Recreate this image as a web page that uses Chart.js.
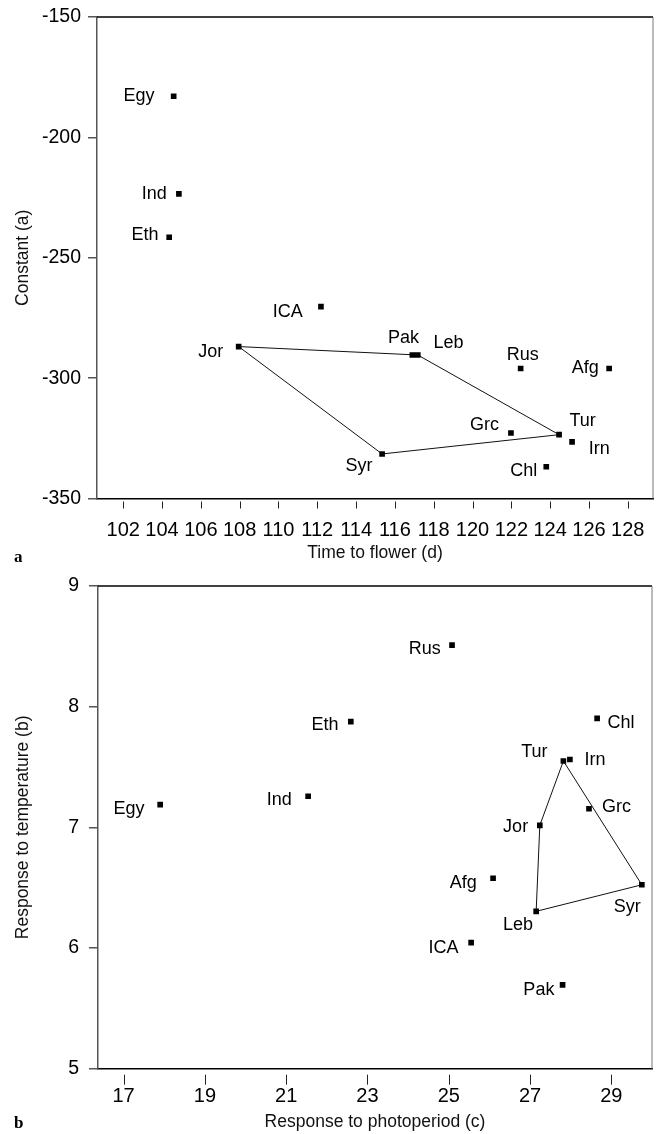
<!DOCTYPE html>
<html>
<head>
<meta charset="utf-8">
<script src="https://cdn.jsdelivr.net/npm/chart.js@4.4.1/dist/chart.umd.min.js"></script>
<style>
html,body{margin:0;padding:0;background:#fff;width:657px;height:1134px;overflow:hidden}
canvas{position:absolute;left:0}
#c1{top:0}
#c2{top:567px}
</style>
</head>
<body>
<canvas id="c1" width="657" height="567"></canvas>
<canvas id="c2" width="657" height="567"></canvas>
<script>
// ---------- data ----------
const countries = ['Egy','Ind','Eth','ICA','Jor','Pak','Leb','Syr','Rus','Afg','Grc','Tur','Irn','Chl'];

// panel a
const timeToFlower = [104.6, 104.87, 104.37, 112.19, 107.95, 116.9, 117.18, 115.34, 122.48, 127.04, 121.98, 124.46, 125.13, 123.8];
const constantA    = [-182.9, -223.5, -241.5, -270.3, -286.9, -290.4, -290.4, -331.5, -296.0, -296.0, -322.8, -323.5, -326.5, -336.8];
const hullA = ['Jor','Leb','Tur','Syr','Jor'];
const xTicksA = [102,104,106,108,110,112,114,116,118,120,122,124,126,128];
const yTicksA = [-350,-300,-250,-200,-150];

// panel b
const photoperiod = [17.90, 21.54, 22.59, 25.55, 27.24, 27.80, 27.15, 29.75, 25.08, 26.09, 28.45, 27.82, 27.98, 28.65];
const temperature = [7.188, 7.258, 7.876, 6.045, 7.017, 5.695, 6.304, 6.524, 8.51, 6.578, 7.154, 7.55, 7.562, 7.903];
const hullB = ['Jor','Tur','Syr','Leb','Jor'];
const xTicksB = [17,19,21,23,25,27,29];
const yTicksB = [5,6,7,8,9];

// ---------- label placement (style) ----------
const offsetsA = {
  Egy:[-34.7,0], Ind:[-24.7,0], Eth:[-24.3,-2.7], ICA:[-33.2,5], Jor:[-27.9,5],
  Pak:[-8.8,-17.3], Leb:[30.6,-12.3], Syr:[-23,12.3], Rus:[2.1,-13.3], Afg:[-23.8,-0.6],
  Grc:[-26.5,-7.7], Tur:[23.5,-13.3], Irn:[27.2,7.6], Chl:[-22.6,4.7]
};
const offsetsB = {
  Rus:[-27.2,4], Eth:[-25.8,3.4], Egy:[-31.2,4.8], Ind:[-28.9,4], Chl:[23.9,4.7],
  Tur:[-29.1,-8.5], Irn:[25.2,0.5], Grc:[27.5,-1.8], Jor:[-24.2,1.7], Afg:[-29.8,4.8],
  Syr:[-14.6,22.1], Leb:[-18.2,14], ICA:[-27.7,5.9], Pak:[-23.7,5.5]
};

const FONT = '"Liberation Sans", Arial, Helvetica, sans-serif';
Chart.defaults.color = '#000';
Chart.defaults.font.family = FONT;

const annotate = {
  id: 'annotate',
  afterDraw(chart, args, o) {
    const ctx = chart.ctx, area = chart.chartArea, xs = chart.scales.x;
    ctx.save();
    // top frame line
    ctx.strokeStyle = '#000'; ctx.lineWidth = 1.5;
    ctx.beginPath(); ctx.moveTo(area.left, area.top); ctx.lineTo(area.right, area.top); ctx.stroke();
    // right frame line
    ctx.strokeStyle = '#777'; ctx.lineWidth = 1;
    ctx.beginPath(); ctx.moveTo(area.right, area.top); ctx.lineTo(area.right, area.bottom); ctx.stroke();
    // x tick marks (detached from axis)
    ctx.strokeStyle = '#222'; ctx.lineWidth = 1;
    xs.ticks.forEach(t => {
      const px = Math.round(xs.getPixelForValue(t.value)) + 0.5;
      ctx.beginPath();
      ctx.moveTo(px, area.bottom + o.tickGap);
      ctx.lineTo(px, area.bottom + o.tickGap + o.tickLen);
      ctx.stroke();
    });
    // point labels
    const meta = chart.getDatasetMeta(0);
    ctx.font = '18px ' + FONT;
    ctx.fillStyle = '#000'; ctx.textAlign = 'center'; ctx.textBaseline = 'middle';
    meta.data.forEach((el, i) => {
      const name = countries[i];
      const off = o.offsets[name] || [0, 0];
      ctx.fillText(name, el.x + off[0], el.y + off[1]);
    });
    // panel letter
    ctx.font = 'bold 17px "Liberation Serif", "DejaVu Serif", serif';
    ctx.textAlign = 'left'; ctx.textBaseline = 'alphabetic';
    ctx.fillText(o.letter, o.letterX, o.letterY);
    ctx.restore();
  }
};

function hullData(order, xs, ys) {
  return order.map(n => { const i = countries.indexOf(n); return {x: xs[i], y: ys[i]}; });
}

function makeChart(id, cfg) {
  const H = 567;
  return new Chart(document.getElementById(id), {
    type: 'scatter',
    data: {
      datasets: [
        {
          data: cfg.xs.map((x, i) => ({x, y: cfg.ys[i]})),
          pointStyle: 'rect', pointRadius: 4, pointHoverRadius: 4,
          backgroundColor: '#000', borderColor: '#000', borderWidth: 0
        },
        {
          data: hullData(cfg.hull, cfg.xs, cfg.ys),
          showLine: true, pointRadius: 0, borderColor: '#111', borderWidth: 1,
          fill: false, tension: 0
        }
      ]
    },
    options: {
      responsive: false, animation: false, devicePixelRatio: 1, events: [],
      layout: { padding: { left: 0, right: cfg.padRight, top: cfg.padTop, bottom: 0 } },
      plugins: {
        legend: { display: false }, tooltip: { enabled: false },
        annotate: { offsets: cfg.offsets, letter: cfg.letter, letterX: 14, letterY: cfg.letterY,
                    tickGap: cfg.tickGap, tickLen: cfg.tickLen }
      },
      scales: {
        x: {
          type: 'linear', min: cfg.xmin, max: cfg.xmax,
          afterBuildTicks: s => { s.ticks = cfg.xTicks.map(v => ({value: v})); },
          afterFit: s => { s.height = H - cfg.bottom; s.paddingLeft = 0; s.paddingRight = 0; },
          grid: { display: false, drawTicks: false },
          border: { display: true, color: '#000', width: 1.5 },
          ticks: { padding: cfg.xTickPad, font: { size: 20 }, color: '#000', maxRotation: 0, autoSkip: false },
          title: { display: true, text: cfg.xTitle, font: { size: 17.5 }, color: '#111',
                   padding: { top: 0, bottom: cfg.xTitlePad } }
        },
        y: {
          type: 'linear', min: cfg.ymin, max: cfg.ymax,
          afterBuildTicks: s => { s.ticks = cfg.yTicks.map(v => ({value: v})); },
          afterFit: s => { s.width = cfg.left; s.paddingTop = 0; s.paddingBottom = 0; },
          grid: { drawOnChartArea: false, drawTicks: true, tickLength: 9, color: '#555', lineWidth: 1.5 },
          border: { display: true, color: '#555', width: 1.5 },
          ticks: { padding: cfg.yTickPad, font: { size: 19.5 }, color: '#000' },
          title: { display: true, text: cfg.yTitle, font: { size: 17.5 }, color: '#111',
                   padding: { top: 12.5, bottom: 0 } }
        }
      }
    },
    plugins: [annotate]
  });
}

makeChart('c1', {
  xs: timeToFlower, ys: constantA, hull: hullA, offsets: offsetsA,
  xTicks: xTicksA, yTicks: yTicksA,
  xmin: 100.65, xmax: 129.3, ymin: -350, ymax: -150,
  left: 97, padRight: 4, padTop: 17, bottom: 498.5,
  xTickPad: 19.5, yTickPad: 7, xTitlePad: 3.5, tickGap: 3, tickLen: 7,
  xTitle: 'Time to flower (d)', yTitle: 'Constant (a)',
  letter: 'a', letterY: 562
});

makeChart('c2', {
  xs: photoperiod, ys: temperature, hull: hullB, offsets: offsetsB,
  xTicks: xTicksB, yTicks: yTicksB,
  xmin: 16.37, xmax: 30, ymin: 5, ymax: 9,
  left: 98, padRight: 5, padTop: 19, bottom: 501.7,
  xTickPad: 15.3, yTickPad: 10, xTitlePad: 1.5, tickGap: 6, tickLen: 10,
  xTitle: 'Response to photoperiod (c)', yTitle: 'Response to temperature (b)',
  letter: 'b', letterY: 561
});
</script>
</body>
</html>
